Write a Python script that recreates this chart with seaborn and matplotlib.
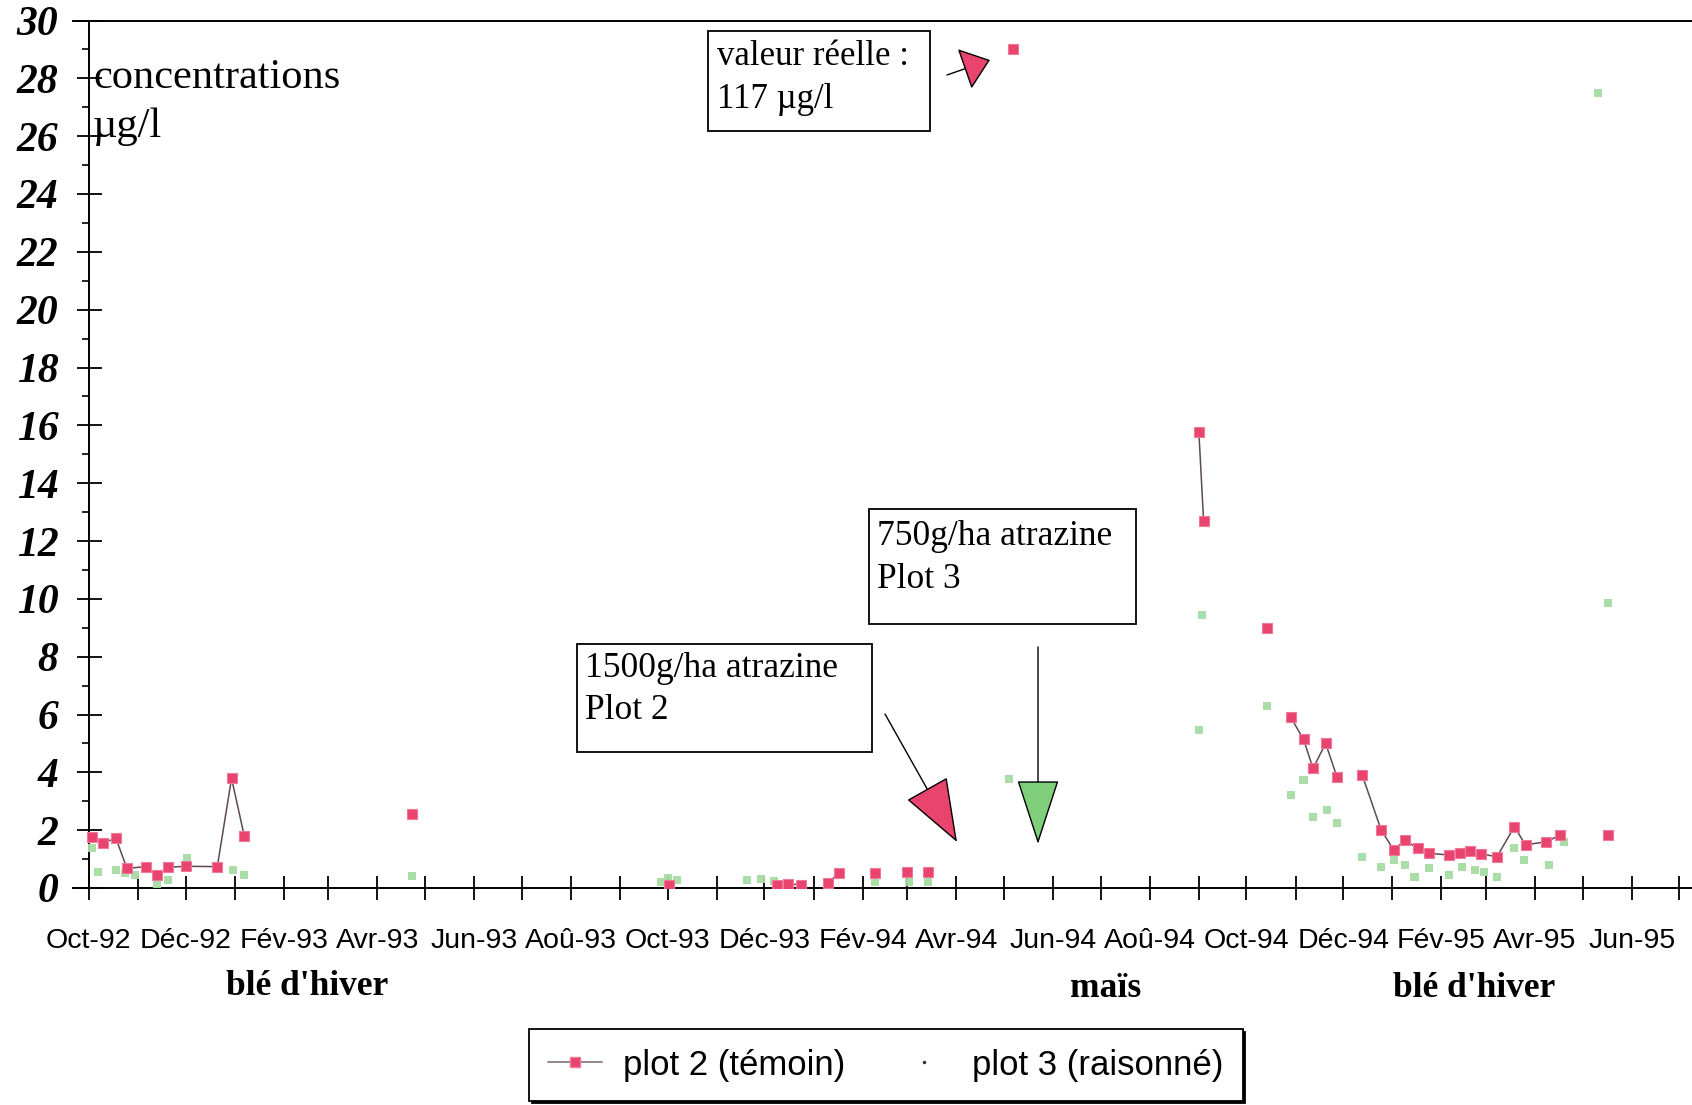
import numpy as np
import pandas as pd
import matplotlib
matplotlib.use("Agg")
import matplotlib.pyplot as plt
import matplotlib.dates as mdates
from matplotlib.lines import Line2D
from matplotlib.patches import Rectangle
import seaborn as sns

# ---------------- data ----------------
plot2_dates = [
    "1992-10-03", "1992-10-10", "1992-10-18", "1992-10-25", "1992-11-06", "1992-11-13",
    "1992-11-20", "1992-12-01", "1992-12-21", "1992-12-30", "1993-01-07",
    "1993-04-23",
    "1993-10-02",
    "1993-12-09", "1993-12-16", "1993-12-24",
    "1994-01-10", "1994-01-17",
    "1994-02-09",
    "1994-03-01",
    "1994-03-14",
    "1994-05-07",
    "1994-09-01", "1994-09-04",
    "1994-10-14",
    "1994-10-29", "1994-11-06", "1994-11-12", "1994-11-20", "1994-11-27",
    "1994-12-13", "1994-12-25", "1995-01-02", "1995-01-09", "1995-01-17", "1995-01-24",
    "1995-02-06", "1995-02-13", "1995-02-19", "1995-02-26", "1995-03-08", "1995-03-19",
    "1995-03-26", "1995-04-08", "1995-04-17",
    "1995-05-17",
]
plot2_values = [
    1.77, 1.55, 1.73, 0.68, 0.74, 0.45,
    0.72, 0.75, 0.74, 3.79, 1.80,
    2.57,
    0.12,
    0.10, 0.15, 0.10,
    0.17, 0.52,
    0.52,
    0.56,
    0.56,
    117.0,
    15.78, 12.69,
    8.99,
    5.90, 5.14, 4.14, 5.00, 3.85,
    3.91, 2.00, 1.31, 1.66, 1.37, 1.20,
    1.14, 1.22, 1.29, 1.18, 1.08, 2.12,
    1.49, 1.60, 1.83,
    1.83,
]
plot2_segment = [
    0, 0, 0, 0, 0, 0, 0, 0, 0, 0, 0,
    1,
    2,
    3, 3, 3,
    4, 4,
    5,
    6,
    7,
    8,
    9, 9,
    10,
    11, 11, 11, 11, 11,
    12, 12, 12, 12, 12, 12, 12, 12, 12, 12, 12, 12, 12, 12, 12,
    13,
]

plot3_dates = [
    "1992-10-03", "1992-10-07", "1992-10-18", "1992-10-24", "1992-10-30", "1992-11-13",
    "1992-11-20", "1992-12-02", "1992-12-21", "1992-12-31", "1993-01-07",
    "1993-04-23",
    "1993-09-27", "1993-10-01", "1993-10-07", "1993-11-20", "1993-11-29", "1993-12-07",
    "1994-02-09", "1994-03-02", "1994-03-14",
    "1994-05-04",
    "1994-09-01", "1994-09-03",
    "1994-10-14", "1994-10-29", "1994-11-06", "1994-11-12", "1994-11-21", "1994-11-27",
    "1994-12-13", "1994-12-25", "1995-01-02", "1995-01-09", "1995-01-15", "1995-01-24",
    "1995-02-06", "1995-02-14", "1995-02-22", "1995-02-28", "1995-03-08", "1995-03-19",
    "1995-03-25", "1995-04-10", "1995-04-19",
    "1995-05-11", "1995-05-17",
]
plot3_values = [
    1.37, 0.56, 0.62, 0.52, 0.45, 0.10,
    0.28, 1.03, 0.74, 0.62, 0.45,
    0.41,
    0.22, 0.34, 0.28, 0.28, 0.30, 0.25,
    0.20, 0.20, 0.22,
    3.77,
    5.45, 9.44,
    6.29, 3.22, 3.73, 2.47, 2.70, 2.24,
    1.08, 0.74, 0.97, 0.80, 0.39, 0.68,
    0.45, 0.74, 0.62, 0.56, 0.39, 1.37,
    0.97, 0.80, 1.60,
    27.48, 9.85,
]

tick_dates = [
    "1992-10-01", "1992-12-01", "1993-02-01", "1993-04-01", "1993-06-01", "1993-08-01",
    "1993-10-01", "1993-12-01", "1994-02-01", "1994-04-01", "1994-06-01", "1994-08-01",
    "1994-10-01", "1994-12-01", "1995-02-01", "1995-04-01", "1995-06-01",
]
tick_labels = [
    "Oct-92", "Déc-92", "Fév-93", "Avr-93", "Jun-93", "Aoû-93",
    "Oct-93", "Déc-93", "Fév-94", "Avr-94", "Jun-94", "Aoû-94",
    "Oct-94", "Déc-94", "Fév-95", "Avr-95", "Jun-95",
]
y_ticks = list(range(0, 31, 2))
display_cap = 29.0  # values above the axis are drawn at the top, with an annotation

crop_labels = ["blé d'hiver", "maïs", "blé d'hiver"]
series_labels = ["plot 2 (témoin)", "plot 3 (raisonné)"]

# ---------------- styling ----------------
PINK = "#e8446e"
GREEN = "#a6dca2"
W, H = 1692, 1105

sns.set_style("white")
plt.rcParams["font.family"] = ["Liberation Serif", "DejaVu Serif"]
plt.rcParams["text.color"] = "black"
plt.rcParams["axes.labelcolor"] = "black"
plt.rcParams["xtick.color"] = "black"
plt.rcParams["ytick.color"] = "black"

fig = plt.figure(figsize=(W / 100, H / 100), dpi=100)
ax = fig.add_axes([73 / W, 1 - 888 / H, 1 - 73 / W, (888 - 20.5) / H])

df2 = pd.DataFrame({
    "date": pd.to_datetime(plot2_dates),
    "val": np.minimum(np.array(plot2_values), display_cap),
    "seg": plot2_segment,
})
df3 = pd.DataFrame({"date": pd.to_datetime(plot3_dates), "val": plot3_values})

sns.scatterplot(data=df3, x="date", y="val", ax=ax, marker="s", s=34,
                color=GREEN, edgecolor="none", alpha=0.95, legend=False, zorder=3)
sns.lineplot(data=df2, x="date", y="val", units="seg", estimator=None, ax=ax,
             color="#5e4a52", lw=1.1, marker="s", markersize=7.5,
             markerfacecolor=PINK, markeredgecolor="#f07898", markeredgewidth=0.8,
             legend=False, zorder=4)

ax.set_xlabel("")
ax.set_ylabel("")
ax.set_xlim(pd.Timestamp("1992-09-21"), pd.Timestamp("1995-07-09"))
ax.set_ylim(0, 30)

for s in ["left", "bottom", "top"]:
    ax.spines[s].set_visible(True)
    ax.spines[s].set_color("black")
    ax.spines[s].set_linewidth(1.4)
ax.spines["right"].set_visible(False)
ax.spines["left"].set_position(("data", mdates.date2num(pd.Timestamp("1992-10-01"))))

ax.set_yticks(y_ticks)
ax.set_yticks(list(range(1, 30, 2)), minor=True)
ax.set_yticklabels([str(v) for v in y_ticks])
for lab in ax.get_yticklabels():
    lab.set_fontfamily("Liberation Serif")
    lab.set_fontweight("bold")
    lab.set_fontstyle("italic")
    lab.set_fontsize(30)
ax.tick_params(axis="y", which="major", direction="inout", length=18, width=1.3,
               pad=13, colors="black", left=True)
ax.tick_params(axis="y", which="minor", direction="out", length=5, width=1.2,
               colors="black", left=True)

ax.set_xticks(mdates.date2num(pd.to_datetime(tick_dates)))
ax.xaxis.set_minor_locator(mdates.MonthLocator())
ax.set_xticklabels(tick_labels, fontfamily="Liberation Sans", fontsize=20.5)
ax.tick_params(axis="x", which="both", direction="inout", length=17, width=1.3,
               pad=20, colors="black", bottom=True)
ax.grid(False)


def fp(x, y):
    return (x / W, 1 - y / H)


# y label text inside the plot
fig.text(*fp(93, 88), "concentrations", fontsize=30.5, va="baseline", ha="left")
fig.text(*fp(93, 137), "µg/l", fontsize=30.5, va="baseline", ha="left")

# annotation boxes
def box(x0, y0, x1, y1):
    fig.add_artist(Rectangle((x0 / W, 1 - y1 / H), (x1 - x0) / W, (y1 - y0) / H,
                             transform=fig.transFigure, fill=False,
                             edgecolor="black", lw=1.3, zorder=5))

box(708, 31, 930, 131)
fig.text(*fp(717, 65), "valeur réelle :", fontsize=25, va="baseline")
fig.text(*fp(717, 108), "117 µg/l", fontsize=25, va="baseline")

box(869, 509, 1136, 624)
fig.text(*fp(877, 545), "750g/ha atrazine", fontsize=25.5, va="baseline")
fig.text(*fp(877, 588), "Plot 3", fontsize=25.5, va="baseline")

box(577, 644, 872, 752)
fig.text(*fp(585, 677), "1500g/ha atrazine", fontsize=25.5, va="baseline")
fig.text(*fp(585, 719), "Plot 2", fontsize=25.5, va="baseline")


def arrow(tail, tip, hl, hw, fc):
    ax.annotate("", xy=(tip[0], H - tip[1]), xycoords="figure pixels",
                xytext=(tail[0], H - tail[1]), textcoords="figure pixels",
                arrowprops=dict(arrowstyle=f"-|>,head_length={hl},head_width={hw}",
                                mutation_scale=1, fc=fc, ec="black", lw=1.0,
                                shrinkA=0, shrinkB=0), zorder=6)

arrow((947, 75), (990, 60), 18, 14, PINK)
arrow((885, 714), (957, 842), 42, 15.5, PINK)
arrow((1038, 647), (1038, 844), 43, 14, "#7fcf7a")

# crop labels
fig.text(*fp(307, 995), crop_labels[0], fontsize=25.5, fontweight="bold", ha="center", va="baseline")
fig.text(*fp(1106, 997), crop_labels[1], fontsize=25.5, fontweight="bold", ha="center", va="baseline")
fig.text(*fp(1474, 997), crop_labels[2], fontsize=25.5, fontweight="bold", ha="center", va="baseline")

# legend
handles = [
    Line2D([], [], color="#8c7c84", lw=1.3, marker="s", markersize=7,
           markerfacecolor=PINK, markeredgecolor="#f07898"),
    Line2D([], [], ls="none", marker=".", color="#333333", markersize=3),
]
leg = fig.legend(handles, series_labels, loc="center",
                 bbox_to_anchor=(886 / W, 1 - 1065 / H), ncol=2,
                 prop={"family": "Liberation Sans", "size": 25},
                 frameon=True, fancybox=False, edgecolor="black", framealpha=1,
                 shadow={"facecolor": "black", "edgecolor": "black", "alpha": 1},
                 handlelength=1.55, handletextpad=0.6, columnspacing=1.5,
                 borderpad=0.55)
leg.get_frame().set_linewidth(1.3)
for t in leg.get_texts():
    t.set_color("black")

fig.savefig("out.png", dpi=100)
